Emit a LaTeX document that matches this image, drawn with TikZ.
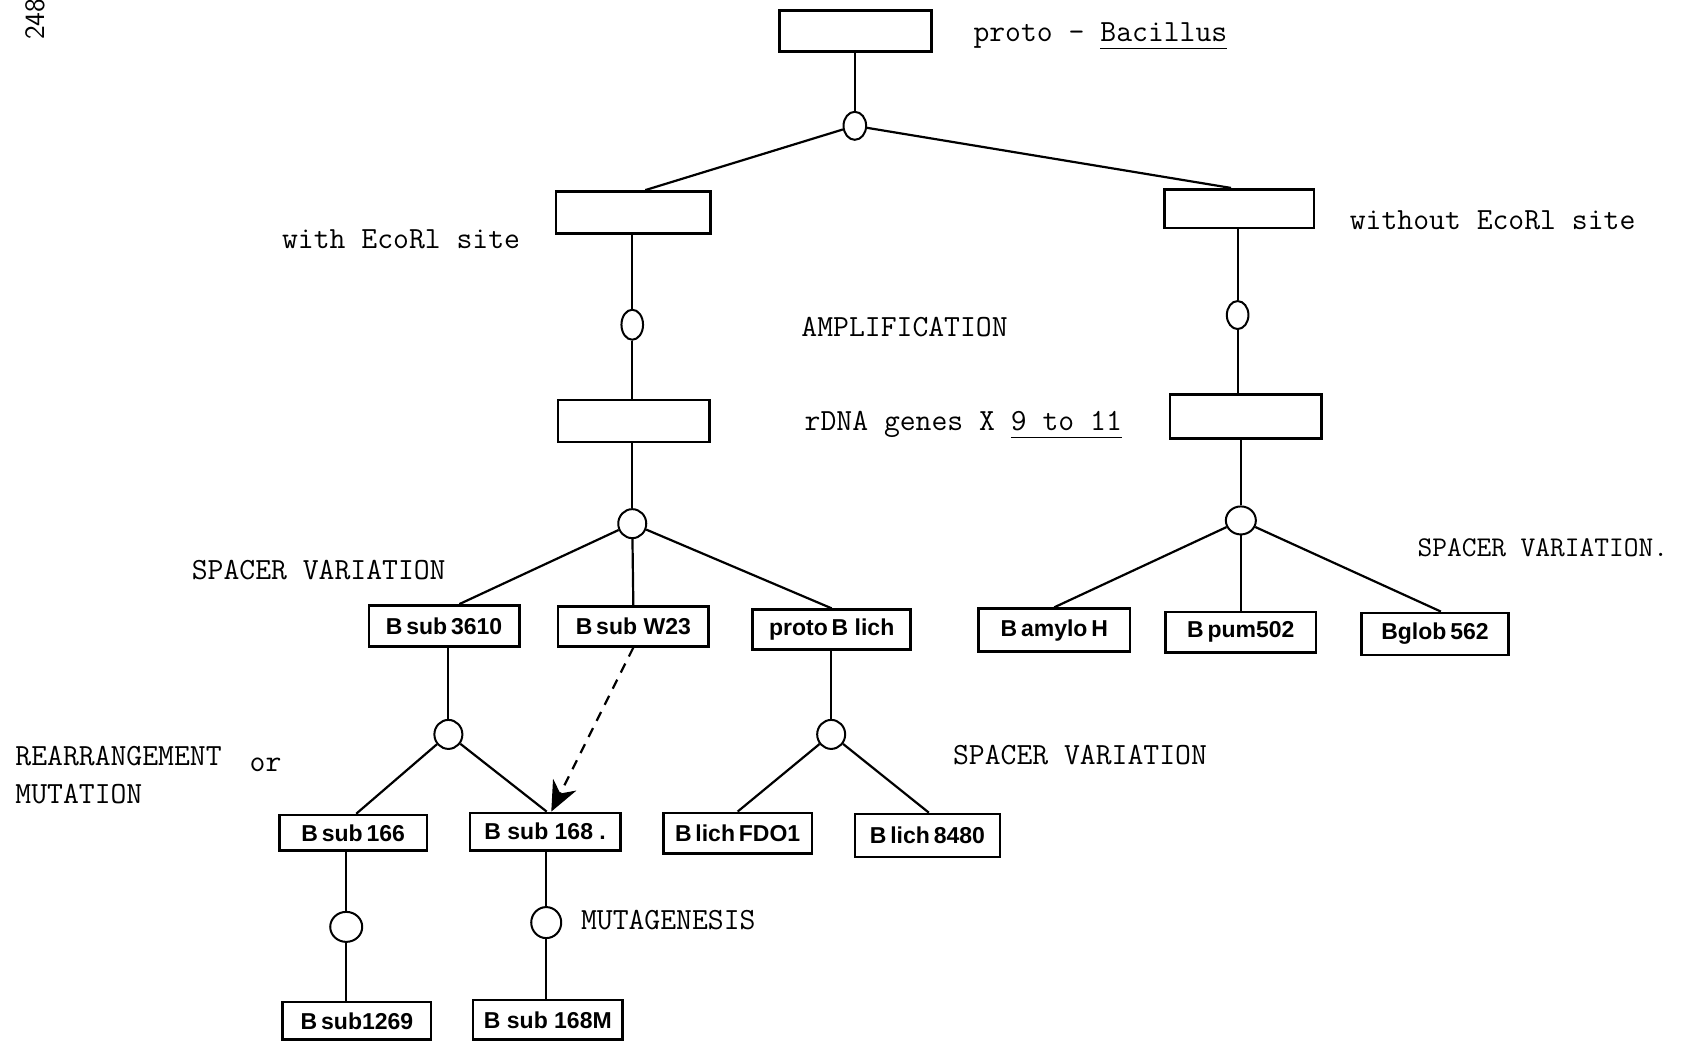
\documentclass[tikz,border=0pt]{standalone}
\usepackage{fontspec}
\newfontfamily\boxfont{Liberation Sans}
\usetikzlibrary{shapes.geometric,fit,calc,arrows.meta}
\newcommand\myuline[1]{\underline{#1\rule[-2pt]{0pt}{0pt}}}
\begin{document}
\begin{tikzpicture}[x=0.5376pt,y=-0.5376pt,
  box/.style={draw,line width=1.3pt,inner sep=0pt},
  lbox/.style={box,label={[font=\boxfont\bfseries\fontsize{11.5}{12}\selectfont,inner sep=0pt]center:#1}},
  knot/.style={draw,ellipse,line width=1pt,inner sep=0pt},
  conn/.style={line width=1.1pt},
  lab/.style={anchor=base west,font=\ttfamily\fontsize{15.4}{18}\selectfont,inner sep=0pt}]
\useasboundingbox (0,0) rectangle (1568,968);

% level 0
\node[box,line width=1.6pt,fit={(725,10)(866,48)}] (b0) {};
\node[knot,minimum width=11.3pt,minimum height=14pt] (c0) at (795,117) {};
% level 1
\node[box,fit={(517,178)(661,217)}] (bL) {};
\node[box,fit={(1083,176)(1222,212)}] (bR) {};
\node[knot,minimum width=10.8pt,minimum height=15pt] (cL) at (588,302) {};
\node[knot,minimum width=10.8pt,minimum height=14pt] (cR) at (1151,293) {};
\node[box,fit={(519,372)(660,411)}] (bL2) {};
\node[box,fit={(1088,367)(1229,408)}] (bR2) {};
\node[knot,minimum width=14pt,minimum height=14.5pt] (cL2) at (588,487) {};
\node[knot,minimum width=15pt,minimum height=14pt] (cR2) at (1154,484) {};
% level 2
\node[lbox={B\,sub\,3610},fit={(343,563)(483,601)}] (b3610) {};
\node[lbox={B\,sub W23},fit={(519,564)(659,601)}] (bW23) {};
\node[lbox={proto\,B lich},fit={(700,567)(847,604)}] (bpBl) {};
\node[lbox={B\,amylo\,H},fit={(910,566)(1051,606)}] (bAm) {};
\node[lbox={B\,pum502},fit={(1084,569)(1224,607)}] (bPum) {};
\node[lbox={Bglob\,562},fit={(1266,570)(1403,609)}] (bGlob) {};
\node[knot,minimum width=14pt,minimum height=14.5pt] (c3) at (417,683) {};
\node[knot,minimum width=14pt,minimum height=14.5pt] (c4) at (773,683) {};
% level 3
\node[lbox={B\,sub\,166},fit={(260,758)(397,791)}] (b166) {};
\node[lbox={B sub 168 .},fit={(437,756)(577,791)}] (b168) {};
\node[lbox={B\,lich\,FDO1},fit={(617,756)(755,794)}] (bFDO) {};
\node[lbox={B\,lich\,8480},fit={(795,757)(930,797)}] (b8480) {};
\node[knot,minimum width=16pt,minimum height=15pt] (c5) at (322,862) {};
\node[knot,minimum width=15pt,minimum height=15.5pt] (c6) at (508,858) {};
% level 4
\node[lbox={B\,sub1269},fit={(263,932)(401,967)}] (b1269) {};
\node[lbox={B sub 168M},fit={(440,930)(579,967)}] (b168M) {};

% connectors
\draw[conn] (c0 |- b0.south) -- (c0);
\draw[conn] (c0) -- ($(bL.north west)!0.576!(bL.north east)$);
\draw[conn] (c0) -- ($(bR.north west)!0.446!(bR.north east)$);
\draw[conn] (cL |- bL.south) -- (cL) -- (cL |- bL2.north);
\draw[conn] (cR |- bR.south) -- (cR) -- (cR |- bR2.north);
\draw[conn] (cL2 |- bL2.south) -- (cL2);
\draw[conn] (cL2) -- ($(b3610.north west)!0.6!(b3610.north east)$);
\draw[conn] (cL2) -- (bW23.north);
\draw[conn] (cL2) -- (bpBl.north);
\draw[conn] (cR2 |- bR2.south) -- (cR2);
\draw[conn] (cR2) -- (bAm.north);
\draw[conn] (cR2) -- (bPum.north);
\draw[conn] (cR2) -- ($(bGlob.north west)!0.54!(bGlob.north east)$);
\draw[conn] (c3 |- b3610.south) -- (c3);
\draw[conn] (c4 |- bpBl.south) -- (c4);
\draw[conn] (c3) -- ($(b166.north west)!0.52!(b166.north east)$);
\draw[conn] (c3) -- ($(b168.north west)!0.51!(b168.north east)$);
\draw[conn] (c4) -- (bFDO.north);
\draw[conn] (c4) -- ($(b8480.north west)!0.51!(b8480.north east)$);
\draw[conn] (c5 |- b166.south) -- (c5) -- (c5 |- b1269.north);
\draw[conn] (c6 |- b168.south) -- (c6) -- (c6 |- b168M.north);
\draw[conn,dash pattern=on 5pt off 4pt,-{Stealth[length=15pt,width=13pt]}]
  (bW23.south) -- ($(b168.north west)!0.54!(b168.north east)$);

% labels
\node[lab] (t0) at (905,39) {proto - \myuline{Bacillus}};
\node[lab] (t1) at (262,231) {with EcoRl site};
\node[lab] (t2) at (1255,213) {without EcoRl site};
\node[lab] (t3) at (745,313) {AMPLIFICATION};
\node[lab] (t4) at (748,400) {rDNA genes X \myuline{9 to 11}};
\node[lab] (t5) at (178,539) {SPACER VARIATION};
\node[lab,font=\ttfamily\fontsize{14.3}{18}\selectfont] (t6) at (1318,518) {SPACER VARIATION.};
\node[lab] (t7) at (14,712) {REARRANGEMENT\hspace{14pt}\raisebox{-3pt}{or}};
\node[lab] (t8) at (14,747) {MUTATION};
\node[lab] (t9) at (886,711) {SPACER VARIATION};
\node[lab] (t10) at (540,864) {MUTAGENESIS};
\node[rotate=90,inner sep=0pt,font=\sffamily\fontsize{14}{14}\selectfont] (pg) at (33,18) {248};
\end{tikzpicture}
\end{document}
